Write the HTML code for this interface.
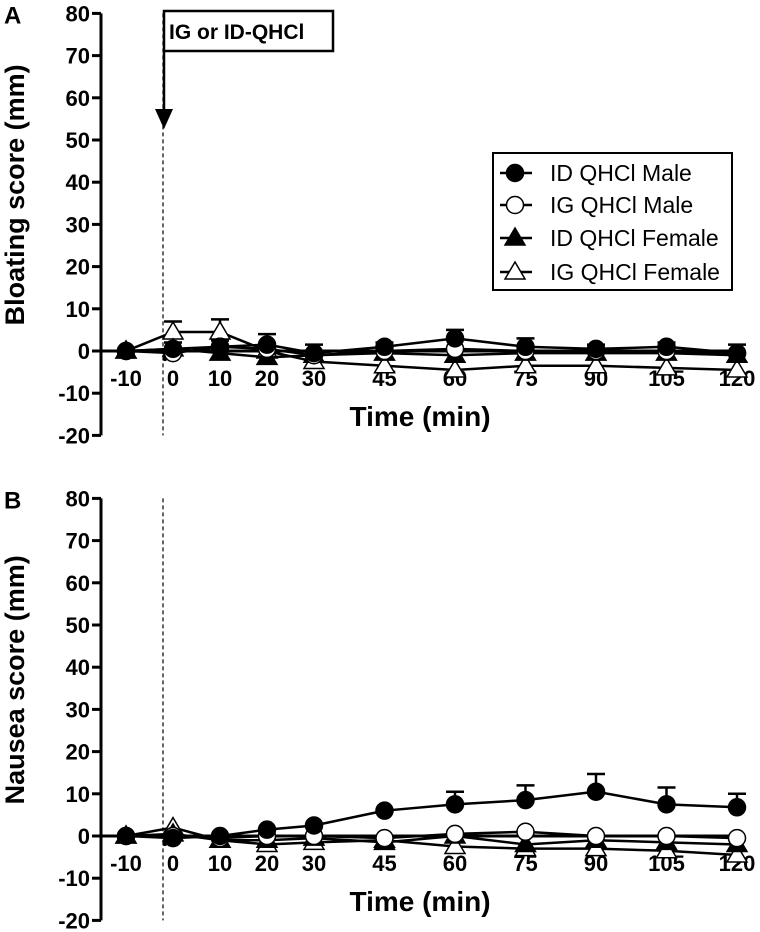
<!DOCTYPE html>
<html><head><meta charset="utf-8">
<style>
html,body{margin:0;padding:0;background:#fff;}
svg{display:block;font-family:"Liberation Sans",Arial,sans-serif;}
</style></head>
<body>
<svg id="chart" width="760" height="932" viewBox="0 0 760 932" xmlns="http://www.w3.org/2000/svg"></svg>
<script>
const times = [-10, 0, 10, 20, 30, 45, 60, 75, 90, 105, 120];
const yTicks = [80, 70, 60, 50, 40, 30, 20, 10, 0, -10, -20];
const seriesNames = ["ID QHCl Male", "IG QHCl Male", "ID QHCl Female", "IG QHCl Female"];
// Panel A (bloating)
const bloatIDMale   = [0, 0.5, 1, 1.5, -0.5, 1, 3, 1, 0.5, 1, -0.5];
const bloatIGMale   = [0, -0.5, 1, 0.5, -1, 0, 0.5, 0, 0, 0, -0.5];
const bloatIDFemale = [0, 0.5, -0.5, -1.5, -1, -0.5, -1, -0.5, -0.5, -0.5, -1];
const bloatIGFemale = [0, 4.5, 4.5, 0, -2.5, -3.5, -4.5, -3.5, -3.5, -4, -4.5];
const bloatErrIDMale = [0, 1.5, 1.5, 2.5, 2, 1, 2, 2, 1, 1, 2];
const bloatErrIGFemale = [0, 2.5, 3, 1, 0, 0, 0, 0, 0, 0, 0];
// Panel B (nausea)
const nauseaIDMale   = [0, -0.5, 0, 1.5, 2.5, 6, 7.5, 8.5, 10.5, 7.5, 6.8];
const nauseaIGMale   = [0, 0, -0.5, 0, 0, -0.5, 0.5, 1, 0, 0, -0.5];
const nauseaIDFemale = [0, 0.5, -1, -1, -0.5, -1.5, 0, -2, -1, -1.5, -2];
const nauseaIGFemale = [0, 2, -1, -2, -1.5, -1, -2.5, -3, -3, -3.5, -4.5];
const nauseaErrIDMale = [0, 0, 0, 0, 0, 0, 3, 3.5, 4.2, 4, 3.2];

const NS = "http://www.w3.org/2000/svg";
const svg = document.getElementById('chart');
function mk(tag, attrs, parent) {
  const e = document.createElementNS(NS, tag);
  for (const k in attrs) e.setAttribute(k, attrs[k]);
  (parent || svg).appendChild(e);
  return e;
}
const xScale = t => 173 + t * 4.7;

function panel(letter, zeroY, title, data, errs, name) {
  const g = mk('g', {});
  
  
  const yScale = v => zeroY - v * 4.22;
  const axX = 101;
  const L = mk('text', {x: 4, y: yScale(80) + 10, 'font-size': 24, 'font-weight': 'bold'}, g);
  L.textContent = letter;
  
  
  const ya = mk('line', {x1: axX, x2: axX, y1: yScale(80), y2: yScale(-20), stroke: '#000', 'stroke-width': 3}, g);
  
  
  yTicks.forEach(v => {
    mk('line', {x1: axX - 9, x2: axX, y1: yScale(v), y2: yScale(v), stroke: '#000', 'stroke-width': 3}, g);
    const t = mk('text', {x: axX - 11, y: yScale(v) + 8, 'font-size': 22, 'font-weight': 'bold', 'text-anchor': 'end'}, g);
    t.textContent = v;
    
    
  });
  const yt = mk('text', {x: 0, y: 0, 'font-size': 27, 'font-weight': 'bold', 'text-anchor': 'middle', transform: `translate(24,${yScale(37)}) rotate(-90)`}, g);
  yt.textContent = title;
  
  
  const dl = mk('line', {x1: 163, x2: 163, y1: yScale(80), y2: yScale(-20), stroke: '#000', 'stroke-width': 1.2, 'stroke-dasharray': '4,3'}, g);
  
  
  const xa = mk('line', {x1: axX, x2: 745, y1: zeroY, y2: zeroY, stroke: '#000', 'stroke-width': 3}, g);
  
  
  mk('line', {x1: xScale(0) - 8, x2: xScale(0) - 8, y1: zeroY, y2: zeroY + 10, stroke: '#000', 'stroke-width': 3}, g);
  times.forEach(t => {
    const tx = mk('text', {x: xScale(t), y: zeroY + 35, 'font-size': 22, 'font-weight': 'bold', 'text-anchor': 'middle'}, g);
    tx.textContent = t;
    
    
  });
  const xt = mk('text', {x: 420, y: zeroY + 75, 'font-size': 28, 'font-weight': 'bold', 'text-anchor': 'middle'}, g);
  xt.textContent = 'Time (min)';
  
  
  const order = [3, 2, 1, 0];
  order.forEach(si => {
    const vals = data[si];
    const sg = mk('g', {}, g);
    
    
    const er = errs[si];
    if (er) {
      times.forEach((t, i) => {
        if (!er[i]) return;
        const x = xScale(t), y1 = yScale(vals[i]), y2 = yScale(vals[i] + er[i]);
        mk('line', {x1: x, x2: x, y1: y1, y2: y2, stroke: '#000', 'stroke-width': 2.5}, sg);
        mk('line', {x1: x - 9, x2: x + 9, y1: y2, y2: y2, stroke: '#000', 'stroke-width': 2.5}, sg);
      });
    }
    const pts = times.map((t, i) => xScale(t) + ',' + yScale(vals[i])).join(' ');
    mk('polyline', {points: pts, fill: 'none', stroke: '#000', 'stroke-width': 2.5}, sg);
    times.forEach((t, i) => {
      const m = marker(si, xScale(t), yScale(vals[i]), sg);
      
      
    });
  });
}
function marker(si, x, y, parent) {
  const filled = (si === 0 || si === 2);
  const fill = filled ? '#000' : '#fff';
  if (si < 2) return mk('circle', {cx: x, cy: y, r: 8.5, fill: fill, stroke: '#000', 'stroke-width': 1.5}, parent);
  return mk('polygon', {points: `${x},${y - 10} ${x - 10},${y + 7} ${x + 10},${y + 7}`, fill: fill, stroke: '#000', 'stroke-width': 1.5}, parent);
}

panel('A', 351, 'Bloating score (mm)',
  [bloatIDMale, bloatIGMale, bloatIDFemale, bloatIGFemale],
  [bloatErrIDMale, null, null, bloatErrIGFemale], 'panel-a-bloating');
panel('B', 836, 'Nausea score (mm)',
  [nauseaIDMale, nauseaIGMale, nauseaIDFemale, nauseaIGFemale],
  [nauseaErrIDMale, null, null, null], 'panel-b-nausea');

const ann = mk('g', {});


mk('rect', {x: 164, y: 11, width: 169, height: 40, fill: '#fff', stroke: '#000', 'stroke-width': 2.5}, ann);
const at = mk('text', {x: 169, y: 39, 'font-size': 21, 'font-weight': 'bold'}, ann);
at.textContent = 'IG or ID-QHCl';
mk('line', {x1: 164, x2: 164, y1: 51, y2: 112, stroke: '#000', 'stroke-width': 2.5}, ann);
mk('polygon', {points: '155,109 173,109 164,129', fill: '#000'}, ann);

const lg = mk('g', {});


mk('rect', {x: 493, y: 153, width: 239, height: 137, fill: '#fff', stroke: '#000', 'stroke-width': 2}, lg);
const legY = [173, 205, 238, 272];
seriesNames.forEach((n, i) => {
  const eg = mk('g', {}, lg);
  
  
  mk('line', {x1: 500, x2: 532, y1: legY[i], y2: legY[i], stroke: '#000', 'stroke-width': 2.5}, eg);
  marker(i, 515, legY[i], eg);
  const t = mk('text', {x: 550, y: legY[i] + 8, 'font-size': 23}, eg);
  t.textContent = n;
});
</script>
</body></html>
